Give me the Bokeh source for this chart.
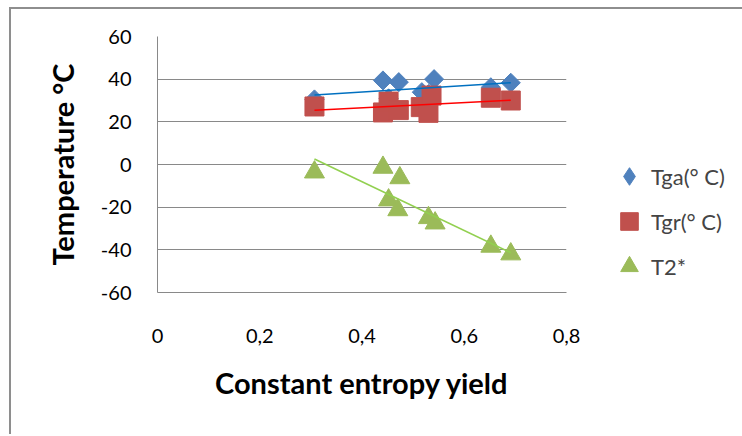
import numpy as np
from bokeh.plotting import figure
from bokeh.models import Legend, LegendItem, FixedTicker, Range1d
from bokeh.embed import file_html
from bokeh.resources import INLINE

# ---- data ----
x_tga = [0.307, 0.441, 0.452, 0.472, 0.517, 0.530, 0.541, 0.652, 0.691]
tga = [30.5, 39.4, 31.0, 38.6, 33.9, 33.0, 40.0, 36.2, 38.3]

x_tgr = [0.307, 0.441, 0.452, 0.472, 0.515, 0.530, 0.536, 0.652, 0.691]
tgr = [27.2, 24.4, 29.5, 25.5, 26.9, 24.2, 32.3, 31.3, 30.0]

x_t2 = [0.307, 0.441, 0.474, 0.452, 0.470, 0.530, 0.543, 0.652, 0.691]
t2 = [-3.6, -1.4, -6.3, -16.7, -21.3, -25.0, -27.5, -38.4, -42.0]

x_ticks = [0, 0.2, 0.4, 0.6, 0.8]
x_tick_labels = ["0", "0,2", "0,4", "0,6", "0,8"]
y_ticks = [-60, -40, -20, 0, 20, 40, 60]
y_tick_labels = ["-60", "-40", "-20", "0", "20", "40", "60"]

series_names = ["Tga(° C)", "Tgr(° C)", "T2*"]

FONT = "Lato"
BLUE, RED, GREEN = "#4F81BD", "#C0504D", "#9BBB59"

p = figure(frame_width=409, frame_height=256,
           x_range=Range1d(0, 0.8), y_range=Range1d(-60, 60),
           output_backend="svg", toolbar_location=None,
           min_border_left=146, min_border_right=174,
           min_border_top=27, min_border_bottom=142)
p.styles = {"border-left": "2px solid #8e8e8e", "border-top": "2px solid #8e8e8e",
            "margin-left": "9px", "margin-top": "7px"}
p.outline_line_color = None
p.background_fill_color = "white"
p.border_fill_color = "white"

p.xgrid.grid_line_color = None
p.ygrid.grid_line_color = "#898989"
p.ygrid.grid_line_width = 1

p.xaxis.ticker = FixedTicker(ticks=x_ticks)
p.xaxis.major_label_overrides = dict(zip(x_ticks, x_tick_labels))
p.yaxis.ticker = FixedTicker(ticks=y_ticks)
p.yaxis.major_label_overrides = dict(zip(y_ticks, y_tick_labels))

for ax in (p.xaxis[0], p.yaxis[0]):
    ax.axis_line_color = "#898989"
    ax.axis_line_width = 1
    ax.major_tick_line_color = None
    ax.minor_tick_line_color = None
    ax.major_label_text_font = FONT
    ax.major_label_text_font_size = "20px"
    ax.major_label_text_color = "black"
    ax.axis_label_text_font = FONT
    ax.axis_label_text_font_size = "29px"
    ax.axis_label_text_font_style = "bold"
    ax.axis_label_text_color = "black"

p.xaxis.axis_label = "Constant entropy yield"
p.yaxis.axis_label = "Temperature °C"
p.xaxis.major_label_standoff = 30
p.xaxis.axis_label_standoff = 19
p.yaxis.major_label_standoff = 20
p.yaxis.axis_label_standoff = 18

r1 = p.scatter(x_tga, tga, marker="square", angle=np.pi / 4, size=13.5,
               fill_color=BLUE, line_color=BLUE)
r2 = p.scatter(x_tgr, tgr, marker="square", size=19,
               fill_color=RED, line_color=RED)
r3 = p.scatter(x_t2, t2, marker="triangle", size=20,
               fill_color=GREEN, line_color=GREEN)
# hidden twin of the Tga series, only used to show a diamond in the legend
r1_leg = p.scatter(x_tga, tga, marker="diamond", size=10,
                   fill_color=BLUE, line_color=BLUE, visible=False)

def trend(xs, ys, color):
    xs = np.asarray(xs)
    ys = np.asarray(ys)
    k, b = np.polyfit(xs, ys, 1)
    xx = np.array([xs.min(), xs.max()])
    p.line(xx, k * xx + b, line_color=color, line_width=1.6)

trend(x_tga, tga, "#0070C0")
trend(x_tgr, tgr, "#FF0000")
trend(x_t2, t2, "#92D050")

legend = Legend(items=[LegendItem(label=series_names[0], renderers=[r1_leg]),
                       LegendItem(label=series_names[1], renderers=[r2]),
                       LegendItem(label=series_names[2], renderers=[r3])],
                location=(41, 4))
legend.click_policy = "none"
legend.label_text_font = FONT
legend.label_text_font_size = "22px"
legend.glyph_width = 44
legend.glyph_height = 44
legend.label_height = 44
legend.spacing = 1
legend.label_standoff = -11
legend.padding = 0
legend.margin = 0
legend.border_line_color = None
legend.background_fill_alpha = 0
p.add_layout(legend, "right")

open("out.html", "w").write(file_html(p, INLINE))
